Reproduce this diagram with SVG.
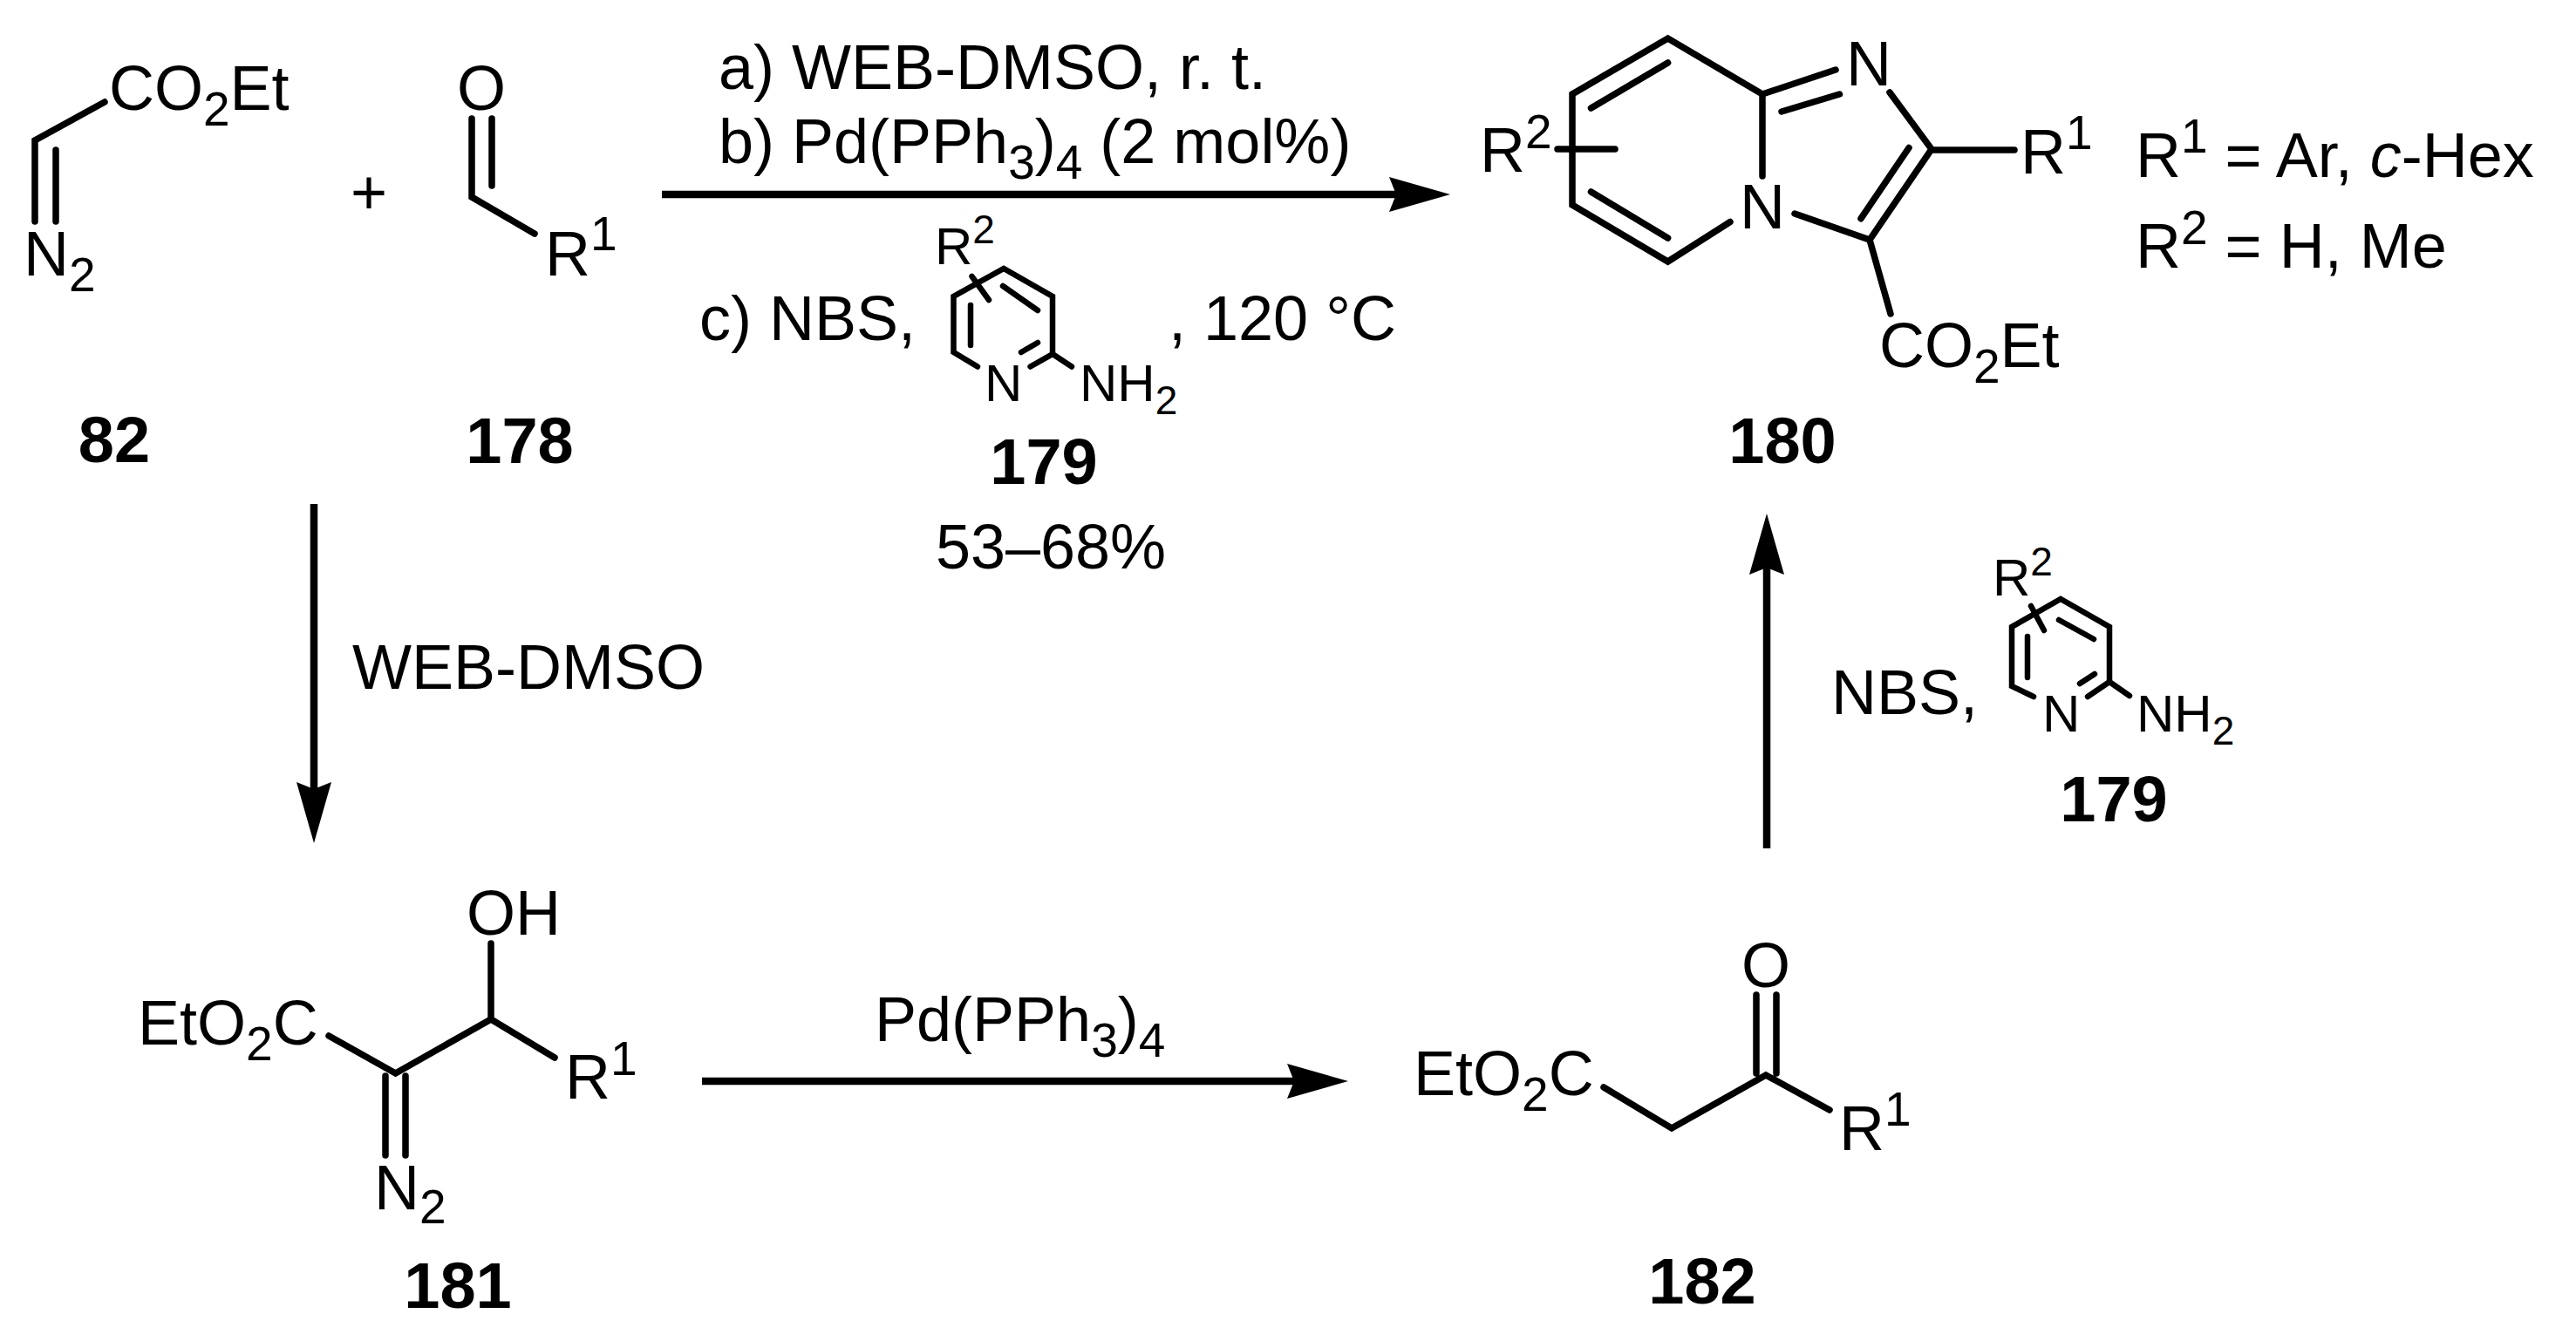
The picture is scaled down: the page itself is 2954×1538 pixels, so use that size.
<svg xmlns="http://www.w3.org/2000/svg" width="2954" height="1538" viewBox="0 0 2954 1538">
<style>
text{font-family:"Liberation Sans",Arial,sans-serif;font-size:72px;fill:#000}
.b{font-weight:bold;font-size:74px;text-anchor:middle}
.m{text-anchor:middle}
.sm{font-size:60px}
.s{font-size:55px}
.ss{font-size:46px}
.bd{fill:none;stroke:#000;stroke-width:7.5;stroke-linecap:round;stroke-linejoin:miter}
.bn{fill:none;stroke:#000;stroke-width:6.5;stroke-linecap:round;stroke-linejoin:miter}
.ar{fill:none;stroke:#000;stroke-width:8.5}
</style>
<defs>
<marker id="head" markerUnits="userSpaceOnUse" markerWidth="72" markerHeight="44" viewBox="0 -22 72 44" refX="8" refY="0" orient="auto"><path d="M0,-20 L70,0 L0,20 L8,0 Z" fill="#000"/></marker>
</defs>
<rect width="2954" height="1538" fill="#fff"/>
<g id="connectors">
<path class="ar" d="M759,223H1601" marker-end="url(#head)"/>
<path class="ar" d="M360,578V905" marker-end="url(#head)"/>
<path class="ar" d="M805,1240H1484" marker-end="url(#head)"/>
<path class="ar" d="M2026,973V651" marker-end="url(#head)"/>
</g>
<g id="n82">
<path class="bd" d="M120,117L40,161V254M64,172V254"/>
<text x="125" y="126">CO<tspan class="s" dy="18">2</tspan><tspan dy="-18">Et</tspan></text>
<text x="27" y="316">N<tspan class="s" dy="18">2</tspan></text>
<text class="b" x="131" y="530">82</text>
</g>
<g id="plus"><text class="m" x="423" y="245">+</text></g>
<g id="n178">
<path class="bd" d="M541,136V226L613,268M564,136V213"/>
<text class="m" x="552" y="126">O</text>
<text x="625" y="316">R<tspan class="s" dy="-29">1</tspan></text>
<text class="b" x="596" y="531">178</text>
</g>
<g id="conditions">
<text x="824" y="102">a) WEB-DMSO, r. t.</text>
<text x="824" y="187">b) Pd(PPh<tspan class="s" dy="18">3</tspan><tspan dy="-18">)</tspan><tspan class="s" dy="18">4</tspan><tspan dy="-18"> (2 mol%)</tspan></text>
<text x="802" y="390">c) NBS,</text>
<text x="1340" y="390">, 120 °C</text>
<path class="bn" d="M1181.5,420.5L1207,406V340L1151,308L1093.5,340V404L1121,420.5M1150,328L1190,356M1113,350V396M1171,404L1190,393M1207,406L1229,420.5M1114.5,317L1134,344"/>
<text class="sm" x="1072" y="303">R<tspan class="ss" dy="-24">2</tspan></text>
<text class="sm" x="1129" y="460">N</text>
<text class="sm" x="1238" y="460">NH<tspan class="ss" dy="15">2</tspan></text>
<text class="b" x="1197" y="555">179</text>
<text class="m" x="1205" y="652">53–68%</text>
</g>
<g id="n180">
<path class="bd" d="M2021,108L1912.6,44L1803,108V235L1912.6,300L1984,254.5M1824.5,124L1912.6,72M1824.5,220L1912.6,273M2021,108V202M2021,108L2105,80M2043,128L2109.5,108M2167,106L2215,171L2144,275L2058,245M2189,169.5L2134,250.7M2144,275L2168,360M2215,172H2310M1786,171H1852"/>
<text x="1697" y="197">R<tspan class="s" dy="-27">2</tspan></text>
<text x="2117" y="98">N</text>
<text x="1995" y="262">N</text>
<text x="2317" y="199">R<tspan class="s" dy="-28">1</tspan></text>
<text x="2155" y="421">CO<tspan class="s" dy="18">2</tspan><tspan dy="-18">Et</tspan></text>
<text class="b" x="2044" y="531">180</text>
</g>
<g id="legend">
<text x="2449" y="203">R<tspan class="s" dy="-28">1</tspan><tspan dy="28"> = Ar, </tspan><tspan font-style="italic">c</tspan>-Hex</text>
<text x="2449" y="307">R<tspan class="s" dy="-27">2</tspan><tspan dy="27"> = H, Me</tspan></text>
</g>
<g id="reagent-web"><text x="404" y="790">WEB-DMSO</text></g>
<g id="n181">
<path class="bd" d="M563,1082V1169L453.6,1231L377,1188M563,1169L636,1213M442,1234V1325M465,1234V1325"/>
<text x="535" y="1072">OH</text>
<text x="158" y="1198">EtO<tspan class="s" dy="18">2</tspan><tspan dy="-18">C</tspan></text>
<text x="429" y="1387">N<tspan class="s" dy="16">2</tspan></text>
<text x="648" y="1260">R<tspan class="s" dy="-27">1</tspan></text>
<text class="b" x="525" y="1500">181</text>
</g>
<g id="reagent-pd"><text x="1003" y="1194">Pd(PPh<tspan class="s" dy="18">3</tspan><tspan dy="-18">)</tspan><tspan class="s" dy="18">4</tspan></text></g>
<g id="n182">
<path class="bd" d="M1839,1247L1917,1294L2025,1233L2098,1273M2014,1141V1231M2037,1141V1231"/>
<text class="m" x="2025" y="1132">O</text>
<text x="1621" y="1256">EtO<tspan class="s" dy="18">2</tspan><tspan dy="-18">C</tspan></text>
<text x="2109" y="1319">R<tspan class="s" dy="-28">1</tspan></text>
<text class="b" x="1952" y="1495">182</text>
</g>
<g id="reagent-nbs">
<text x="2100" y="819">NBS,</text>
<path class="bn" d="M2394,799L2419,782V719L2363,687L2307,719V787L2332,799M2361,711L2401,733M2325,730V777M2385,784L2402,773M2419,782L2442,798M2329,695L2344,723"/>
<text class="sm" x="2285" y="683">R<tspan class="ss" dy="-23">2</tspan></text>
<text class="sm" x="2342" y="839">N</text>
<text class="sm" x="2450" y="839">NH<tspan class="ss" dy="15">2</tspan></text>
<text class="b" x="2424" y="942">179</text>
</g>
</svg>
